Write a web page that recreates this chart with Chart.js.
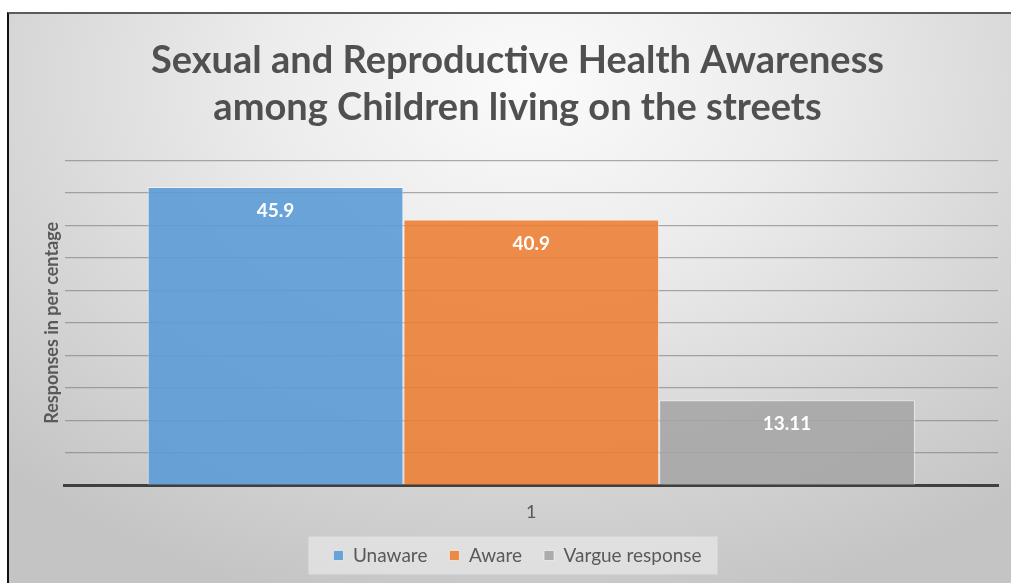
<!DOCTYPE html>
<html lang="en">
<head>
    <meta charset="UTF-8">
    <title>Sexual and Reproductive Health Awareness</title>
    <script src="https://cdn.jsdelivr.net/npm/chart.js"></script>
    <style>
        html, body { margin: 0; padding: 0; background: #ffffff; }
        .chart-frame {
            position: absolute;
            left: 7px; top: 12px;
            width: 1004px; height: 571px;
            border-top: 2px solid #5c5c5c;
            border-left: 2px solid #111111;
            background: radial-gradient(ellipse 75% 95% at 52% 12%, #fbfbfb 0%, #ececec 35%, #d6d6d6 70%, #c4c4c4 100%);
        }
        #grafico { display: block; }
    </style>
</head>
<body>

<div class="chart-frame">
    <canvas id="grafico" width="1002" height="569"></canvas>
</div>

<script>
// datos
const categorias = ['1'];
const series = ['Unaware', 'Aware', 'Vargue response'];
const unaware = [45.9];
const aware = [40.9];
const vargue = [13.11];
const yMax = 50;
const yPaso = 5;

const colores = ['rgba(91,155,213,0.9)', 'rgba(237,125,49,0.88)', 'rgba(165,165,165,0.88)'];
const textoGris = '#595959';
const fuente = "Lato, 'Open Sans', sans-serif";

// etiqueta de valor en blanco, cerca del tope de cada barra
const etiquetasValor = {
    id: 'etiquetasValor',
    afterDatasetsDraw(chart) {
        const ctx = chart.ctx;
        ctx.save();
        ctx.fillStyle = '#ffffff';
        ctx.font = 'bold 19px ' + fuente;
        ctx.textAlign = 'center';
        ctx.textBaseline = 'middle';
        chart.data.datasets.forEach((ds, i) => {
            chart.getDatasetMeta(i).data.forEach((bar, j) => {
                ctx.fillText(String(ds.data[j]), bar.x, bar.y + 24);
            });
        });
        ctx.restore();
    }
};

// recuadro claro detrás de la leyenda
const fondoLeyenda = {
    id: 'fondoLeyenda',
    beforeDraw(chart) {
        const cajas = chart.legend && chart.legend.legendHitBoxes;
        if (!cajas || !cajas.length) return;
        const izq = Math.min(...cajas.map(b => b.left)) - 25;
        const der = Math.max(...cajas.map(b => b.left + b.width)) + 16;
        const medio = cajas[0].top + cajas[0].height / 2;
        const ctx = chart.ctx;
        ctx.save();
        ctx.fillStyle = 'rgba(240,240,240,0.55)';
        ctx.fillRect(izq, medio - 19, der - izq, 38);
        ctx.restore();
    }
};

new Chart(document.getElementById('grafico'), {
    type: 'bar',
    data: {
        labels: categorias,
        datasets: [
            { label: series[0], data: unaware, backgroundColor: colores[0] },
            { label: series[1], data: aware, backgroundColor: colores[1] },
            { label: series[2], data: vargue, backgroundColor: colores[2] }
        ].map(d => Object.assign(d, {
            borderColor: 'rgba(255,255,255,0.55)',
            borderWidth: 1,
            categoryPercentage: 0.822,
            barPercentage: 1.0
        }))
    },
    options: {
        responsive: false,
        animation: false,
        layout: { padding: { left: 28, right: 13, top: 0, bottom: 8 } },
        plugins: {
            title: {
                display: true,
                text: ['Sexual and Reproductive Health Awareness', 'among Children living on the streets'],
                color: '#505050',
                font: { family: fuente, size: 38, weight: 'bold', lineHeight: 1.24 },
                padding: { top: 23, bottom: 29 }
            },
            legend: {
                position: 'bottom',
                labels: {
                    color: textoGris,
                    font: { family: fuente, size: 19 },
                    boxWidth: 10,
                    boxHeight: 10,
                    padding: 22
                }
            },
            tooltip: { enabled: false }
        },
        scales: {
            x: {
                grid: { display: false, drawTicks: false, tickLength: 0 },
                border: { display: true, color: '#3f3f3f', width: 3 },
                ticks: { color: textoGris, font: { family: fuente, size: 18 }, padding: 16 },
                // la leyenda queda más cerca de la etiqueta "1"
                afterFit(escala) { escala.height -= 15; }
            },
            y: {
                min: 0,
                max: yMax,
                ticks: { display: false, stepSize: yPaso },
                border: { display: false },
                grid: { color: 'rgba(120,120,120,0.6)', lineWidth: 1.3, drawTicks: false },
                title: {
                    display: true,
                    text: 'Responses in per centage',
                    color: textoGris,
                    font: { family: fuente, size: 18, weight: 'bold' },
                    padding: { top: 4, bottom: 2 }
                }
            }
        }
    },
    plugins: [fondoLeyenda, etiquetasValor]
});
</script>

</body>
</html>
